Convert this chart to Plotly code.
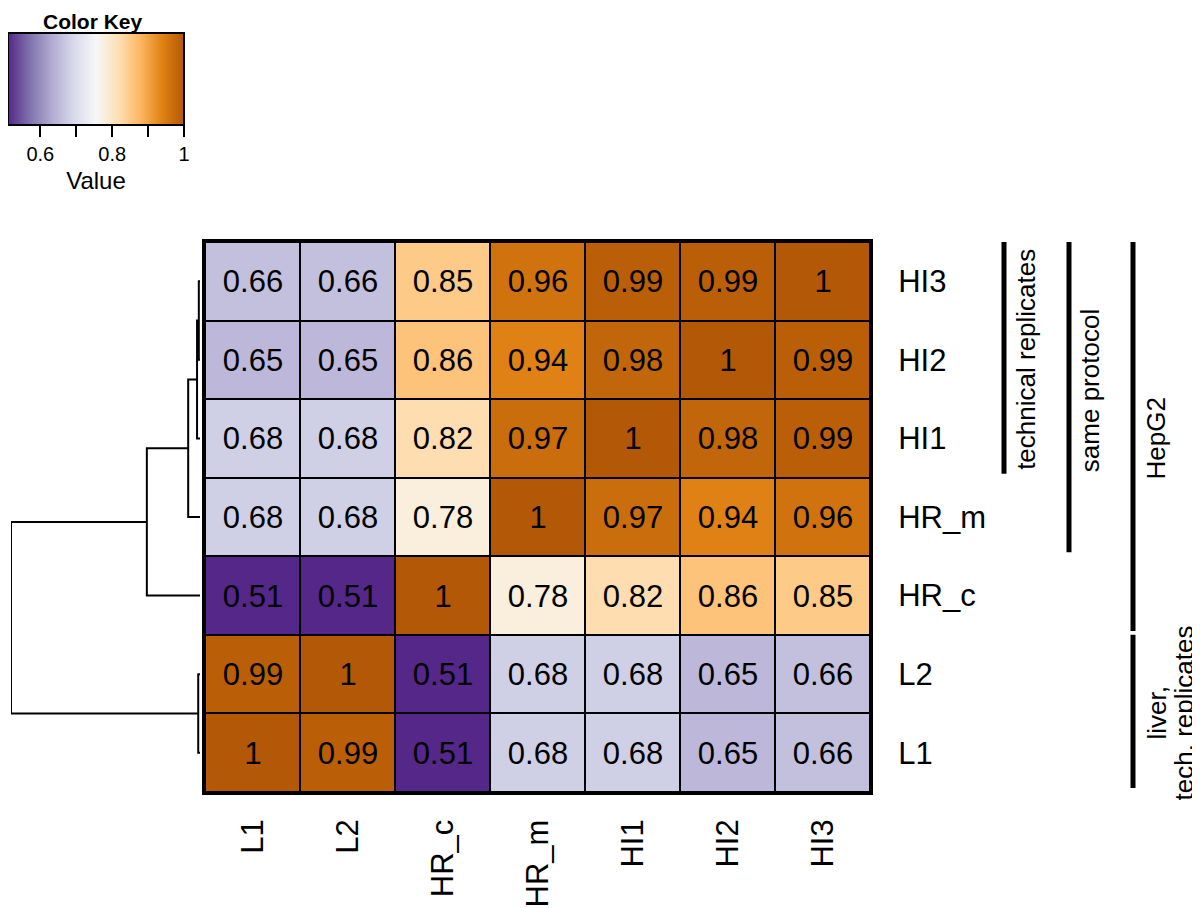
import plotly.graph_objects as go

# sample names, rows listed bottom -> top (same order used for columns left -> right)
samples = ["L1", "L2", "HR_c", "HR_m", "HI1", "HI2", "HI3"]

# correlation values, one list per row (bottom -> top), columns L1..HI3
row_L1 = [1, 0.99, 0.51, 0.68, 0.68, 0.65, 0.66]
row_L2 = [0.99, 1, 0.51, 0.68, 0.68, 0.65, 0.66]
row_HR_c = [0.51, 0.51, 1, 0.78, 0.82, 0.86, 0.85]
row_HR_m = [0.68, 0.68, 0.78, 1, 0.97, 0.94, 0.96]
row_HI1 = [0.68, 0.68, 0.82, 0.97, 1, 0.98, 0.99]
row_HI2 = [0.65, 0.65, 0.86, 0.94, 0.98, 1, 0.99]
row_HI3 = [0.66, 0.66, 0.85, 0.96, 0.99, 0.99, 1]

# row dendrogram merges: (left node, right node, height); new clusters get ids 7, 8, ...
merges = [
    (5, 6, 0.02),   # HI2 + HI3
    (4, 7, 0.05),   # HI1 + (HI2, HI3)
    (3, 8, 0.2),    # HR_m + ...
    (2, 9, 0.9),    # HR_c + ...
    (0, 1, 0.03),   # L1 + L2
    (11, 10, 3.2),  # root
]

# side brackets: label lines, first row, last row (row indices bottom -> top)
group_labels = [["technical replicates"], ["same protocol"], ["HepG2"], ["liver,", "tech. replicates"]]
group_from = [4, 3, 2, 0]
group_to = [6, 6, 6, 1]

key_ticks = [0.6, 0.7, 0.8, 0.9, 1]
key_ticktext = ["0.6", "", "0.8", "", "1"]

z = [row_L1, row_L2, row_HR_c, row_HR_m, row_HI1, row_HI2, row_HI3]
cell_text = [[f"{v:g}" for v in row] for row in z]

# rev(brewer.pal(9, "PuOr"))
puor = ["#542788", "#8073ac", "#b2abd2", "#d8daeb", "#f7f7f7",
        "#fee0b6", "#fdb863", "#e08214", "#b35806"]
colorscale = [[i / (len(puor) - 1), c] for i, c in enumerate(puor)]

W, H = 1200, 908
OFF = 8  # page body margin, figure sits 8px in from the window corner
FONT = "Liberation Sans, Arial, sans-serif"

# Arial/Liberation Sans advance widths (em) for the label characters,
# used to hang the rotated column labels from their ends
CHAR_EM = {"L": 0.556, "H": 0.722, "R": 0.722, "I": 0.278, "_": 0.556,
           "c": 0.5, "m": 0.833, "1": 0.556, "2": 0.556, "3": 0.556}


def text_px(s, size):
    return sum(CHAR_EM.get(ch, 0.556) for ch in s) * size


def px_x(p):
    return (p - OFF) / W


def px_y(p):
    return 1 - (p - OFF) / H


fig = go.Figure()

n = len(samples)

# black backing behind the cells, the gaps between cells show it as grid lines
fig.add_shape(type="rect", xref="x", yref="y", x0=-0.5, x1=n - 0.5, y0=-0.5, y1=n - 0.5,
              fillcolor="black", line=dict(width=0), layer="below")

fig.add_trace(go.Heatmap(
    z=z, x=list(range(n)), y=list(range(n)),
    text=cell_text, texttemplate="%{text}",
    textfont=dict(family=FONT, size=31, color="black"),
    colorscale=colorscale, zmin=0.51, zmax=1,
    xgap=2, ygap=2,
    colorbar=dict(
        orientation="h",
        x=px_x(96), xanchor="center",
        y=px_y(33), yanchor="top",
        lenmode="pixels", len=176,
        thickness=92, xpad=0, ypad=0,
        outlinewidth=2, outlinecolor="black",
        tickvals=key_ticks, ticktext=key_ticktext,
        ticks="outside", ticklen=11, tickwidth=2, tickcolor="black",
        tickfont=dict(family=FONT, size=20, color="black"),
        title=dict(text="Value", side="bottom",
                   font=dict(family=FONT, size=24, color="black")),
    ),
    hoverinfo="skip",
))

# dendrogram drawn from the merge list
pos = {i: float(i) for i in range(n)}
hgt = {i: 0.0 for i in range(n)}
node = n
for a, b, h in merges:
    xs = [hgt[a], h, h, hgt[b]]
    ys = [pos[a], pos[a], pos[b], pos[b]]
    fig.add_trace(go.Scatter(x=xs, y=ys, mode="lines", xaxis="x2", yaxis="y",
                             line=dict(color="black", width=2),
                             hoverinfo="skip", showlegend=False))
    pos[node] = (pos[a] + pos[b]) / 2
    hgt[node] = h
    node += 1

x0, x1 = 205, 870
y0, y1 = 242, 792

fig.update_layout(
    width=W, height=H,
    margin=dict(l=0, r=0, t=0, b=0, autoexpand=False),
    paper_bgcolor="white", plot_bgcolor="white",
    font=dict(family=FONT, color="black"),
    showlegend=False,
    xaxis=dict(domain=[px_x(x0), px_x(x1)], range=[-0.5, n - 0.5],
               tickvals=list(range(n)), showticklabels=False, ticks="",
               showgrid=False, zeroline=False,
               showline=True, linecolor="black", linewidth=3, mirror=True,
               anchor="y"),
    yaxis=dict(domain=[px_y(y1), px_y(y0)], range=[-0.5, n - 0.5],
               tickvals=list(range(n)), ticktext=samples,
               side="right", tickfont=dict(size=31), ticks="",
               ticklabelstandoff=19,
               showgrid=False, zeroline=False,
               showline=True, linecolor="black", linewidth=3, mirror=True,
               anchor="x"),
    xaxis2=dict(domain=[px_x(11), px_x(200)], range=[3.2, 0],
                visible=False, anchor="y"),
)

# column labels, rotated, their ends lined up just under the heatmap
for i, s in enumerate(samples):
    centre = 820 + text_px(s, 31) / 2
    fig.add_annotation(text=s, textangle=-90, xref="x", yref="paper",
                       x=i, y=px_y(centre), xanchor="center", yanchor="middle",
                       showarrow=False, font=dict(size=31, family=FONT))

# "Color Key" heading
fig.add_annotation(text="<b>Color Key</b>", x=px_x(93), y=1,
                   xref="paper", yref="paper", xanchor="center", yanchor="top",
                   showarrow=False, font=dict(size=21, family=FONT))

# side brackets with rotated labels
bar_x = [1004, 1069, 1133, 1133]
text_x = [1026, 1090, 1156, 1157]
text_shift = [0, 8, 0, 0]
line_step = 27
for lines, r0, r1, bx, tx, ys in zip(group_labels, group_from, group_to, bar_x, text_x, text_shift):
    fig.add_shape(type="line", xref="paper", yref="y",
                  x0=px_x(bx), x1=px_x(bx), y0=r0 - 0.45, y1=r1 + 0.5,
                  line=dict(color="black", width=5))
    for k, lab in enumerate(lines):
        fig.add_annotation(text=lab, textangle=-90, xref="paper", yref="y",
                           x=px_x(tx + k * line_step), y=(r0 + r1) / 2, yshift=ys,
                           xanchor="center", yanchor="middle", showarrow=False,
                           font=dict(size=26, family=FONT))

fig.write_html("out.html")
